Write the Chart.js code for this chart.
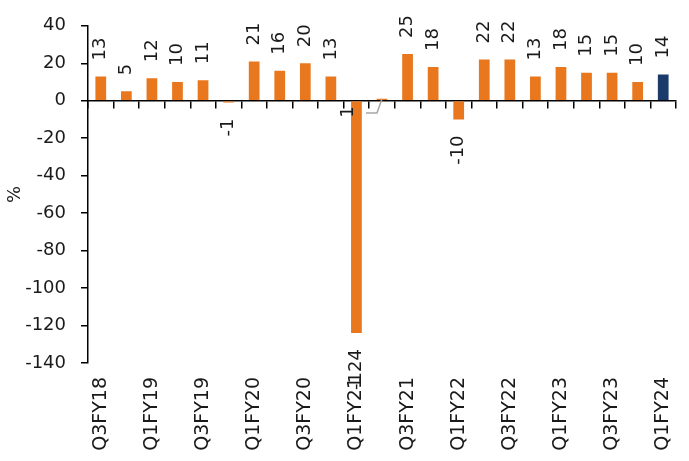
<!DOCTYPE html>
<html lang="en">
<head>
  <meta charset="UTF-8" />
  <title>Quarterly growth, %</title>
  <script src="https://cdn.jsdelivr.net/npm/chart.js"></script>
  <style>
    body { margin: 0; background: #fff; }
    #wrap { width: 689px; height: 461px; position: relative; }
  </style>
</head>
<body>
  <div id="wrap"><canvas id="growthChart"></canvas></div>

  <script>
    const quarters = ['Q3FY18','Q4FY18','Q1FY19','Q2FY19','Q3FY19','Q4FY19','Q1FY20','Q2FY20','Q3FY20','Q4FY20',
                      'Q1FY21','Q2FY21','Q3FY21','Q4FY21','Q1FY22','Q2FY22','Q3FY22','Q4FY22','Q1FY23','Q2FY23',
                      'Q3FY23','Q4FY23','Q1FY24'];
    const growth = [13, 5, 12, 10, 11, -1, 21, 16, 20, 13, -124, 1, 25, 18, -10, 22, 22, 13, 18, 15, 15, 10, 14];
    const yTicks = [40, 20, 0, -20, -40, -60, -80, -100, -120, -140];

    const orange = '#E8771E';
    const navy = '#1B3C6B';
    const ink = '#1a1a1a';
    const fontFamily = "'DejaVu Sans', sans-serif";

    // latest quarter in navy, the rest orange
    const barColors = growth.map((v, i) => i === growth.length - 1 ? navy : orange);

    // rotated value labels just outside the bar end; Q2FY21's tiny bar gets its label pulled aside with a leader
    const valueLabels = {
      id: 'valueLabels',
      afterDatasetsDraw(chart) {
        const ctx = chart.ctx;
        const meta = chart.getDatasetMeta(0);
        const gap = 16;
        ctx.save();
        ctx.font = '18px ' + fontFamily;
        ctx.fillStyle = ink;
        ctx.textBaseline = 'middle';
        meta.data.forEach((bar, i) => {
          const v = growth[i];
          if (i === 11) {
            ctx.strokeStyle = '#A6A6A6';
            ctx.lineWidth = 1.5;
            ctx.beginPath();
            ctx.moveTo(bar.x - 16, bar.base + 13);
            ctx.lineTo(bar.x - 5, bar.base + 13);
            ctx.lineTo(bar.x, bar.y);
            ctx.stroke();
            ctx.save();
            ctx.translate(bar.x - 34, bar.base + 12);
            ctx.rotate(-Math.PI / 2);
            ctx.textAlign = 'center';
            ctx.fillText(String(v), 0, 0);
            ctx.restore();
            return;
          }
          ctx.save();
          if (v >= 0) {
            ctx.translate(bar.x, Math.min(bar.y, bar.base) - gap);
            ctx.rotate(-Math.PI / 2);
            ctx.textAlign = 'left';
          } else {
            ctx.translate(bar.x, Math.max(bar.y, bar.base) + gap);
            ctx.rotate(-Math.PI / 2);
            ctx.textAlign = 'right';
          }
          ctx.fillText(String(v), 0, 0);
          ctx.restore();
        });
        ctx.restore();
      }
    };

    new Chart(document.getElementById('growthChart').getContext('2d'), {
      type: 'bar',
      data: {
        labels: quarters,
        datasets: [{
          data: growth,
          backgroundColor: barColors,
          borderWidth: 0,
          categoryPercentage: 1,
          barPercentage: 0.42
        }]
      },
      options: {
        responsive: true,
        maintainAspectRatio: false,
        animation: false,
        layout: { padding: { left: 5, right: 13, top: 10, bottom: 4 } },
        plugins: { legend: { display: false }, tooltip: { enabled: false } },
        scales: {
          // zero line with the small category ticks hanging below it
          x: {
            type: 'category',
            position: { y: 0 },
            offset: true,
            z: 1,
            border: { display: true, color: '#000', width: 1.5 },
            grid: { display: true, offset: true, drawOnChartArea: false, drawTicks: true, tickLength: 7, color: '#000', lineWidth: 1.5 },
            ticks: { display: false }
          },
          // quarter names along the bottom, every second one
          x2: {
            type: 'category',
            position: 'bottom',
            offset: true,
            border: { display: false },
            grid: { display: false, drawTicks: false, tickLength: 0 },
            afterFit: (s) => { s.paddingLeft = 0; s.paddingRight = 0; s.height = 94; },
            ticks: {
              autoSkip: false,
              minRotation: 90,
              maxRotation: 90,
              padding: 14,
              color: ink,
              font: { family: fontFamily, size: 19 },
              callback: (v, i) => (i % 2 === 0 ? quarters[i] : '')
            }
          },
          y: {
            min: -140,
            max: 40,
            afterBuildTicks: (axis) => { axis.ticks = yTicks.map(v => ({ value: v })); },
            afterFit: (s) => { s.width = 83; },
            border: { display: true, color: '#000', width: 1.5 },
            grid: { drawOnChartArea: false, drawTicks: true, tickLength: 7, color: '#000', lineWidth: 1.5 },
            ticks: { padding: 15, color: ink, font: { family: fontFamily, size: 18 } },
            title: { display: true, text: '%', color: ink, padding: 0, font: { family: fontFamily, size: 18 } }
          }
        }
      },
      plugins: [valueLabels]
    });
  </script>
</body>
</html>
